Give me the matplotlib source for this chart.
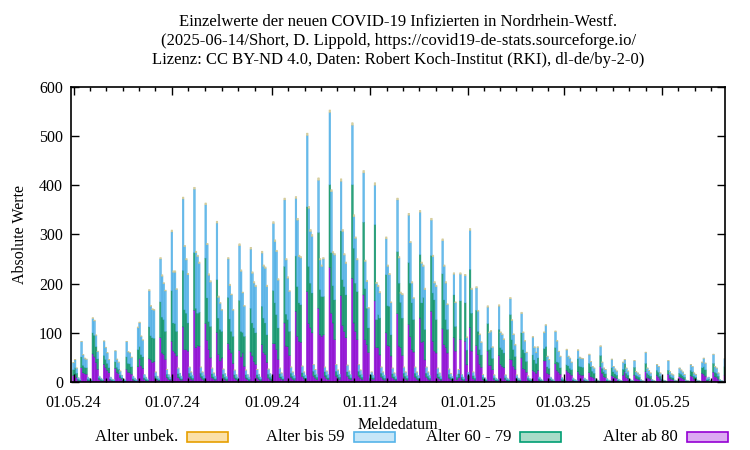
import datetime as dt
import numpy as np
import matplotlib
matplotlib.use("Agg")
import matplotlib.pyplot as plt
import matplotlib.dates as mdates
from matplotlib.patches import Rectangle

#%% Daten (Wochenzeilen Mo..So, ab Mo 29.04.2024; 29./30.04. ohne Werte)
# Oberkanten der gestapelten Balken
top59 = [  # Oberkante "Alter bis 59" (= alle mit bekanntem Alter)
    [0, 0, 39, 45, 28, 9, 6],
    [82, 55, 48, 46, 10, 7, 5],
    [129, 124, 95, 62, 12, 8, 6],
    [83, 70, 59, 45, 10, 6, 5],
    [63, 46, 40, 22, 14, 6, 5],
    [82, 61, 59, 50, 12, 8, 5],
    [110, 120, 93, 85, 15, 10, 6],
    [185, 154, 147, 146, 20, 12, 8],
    [250, 215, 200, 185, 25, 15, 10],
    [305, 223, 223, 188, 28, 18, 12],
    [372, 275, 248, 218, 30, 20, 14],
    [392, 263, 255, 241, 30, 20, 14],
    [360, 279, 217, 203, 28, 18, 12],
    [323, 172, 160, 146, 26, 17, 11],
    [250, 196, 177, 146, 24, 15, 10],
    [277, 225, 181, 154, 24, 15, 10],
    [270, 221, 201, 194, 25, 16, 10],
    [262, 235, 231, 194, 26, 17, 11],
    [322, 285, 265, 207, 28, 18, 12],
    [370, 248, 211, 184, 30, 20, 13],
    [373, 329, 255, 252, 32, 20, 14],
    [501, 353, 306, 296, 35, 25, 16],
    [410, 248, 235, 250, 30, 22, 15],
    [548, 387, 262, 258, 35, 24, 16],
    [408, 306, 258, 241, 34, 22, 15],
    [522, 336, 292, 248, 35, 24, 16],
    [425, 245, 204, 150, 12, 20, 14],
    [400, 200, 194, 181, 30, 20, 14],
    [291, 235, 218, 161, 28, 18, 12],
    [370, 252, 180, 177, 30, 20, 13],
    [339, 283, 201, 170, 30, 20, 13],
    [345, 241, 235, 188, 30, 20, 13],
    [329, 255, 201, 194, 28, 18, 12],
    [287, 235, 201, 157, 26, 17, 11],
    [219, 161, 15, 25, 219, 15, 10],
    [216, 90, 20, 308, 188, 20, 12],
    [191, 144, 96, 80, 15, 9, 6],
    [152, 100, 103, 70, 14, 8, 6],
    [154, 100, 96, 86, 14, 8, 6],
    [169, 125, 96, 75, 14, 8, 6],
    [139, 100, 83, 60, 12, 7, 5],
    [91, 70, 60, 70, 10, 6, 4],
    [100, 115, 52, 45, 10, 6, 4],
    [102, 83, 62, 52, 9, 6, 4],
    [65, 52, 48, 40, 8, 5, 4],
    [64, 50, 48, 47, 8, 5, 4],
    [55, 41, 31, 28, 7, 4, 3],
    [72, 40, 28, 25, 7, 4, 3],
    [46, 31, 26, 22, 6, 4, 3],
    [40, 45, 28, 22, 6, 4, 3],
    [43, 21, 18, 15, 5, 3, 2],
    [60, 28, 23, 18, 5, 3, 2],
    [35, 31, 18, 10, 4, 3, 2],
    [43, 21, 16, 14, 4, 3, 2],
    [28, 24, 20, 15, 4, 3, 2],
    [35, 31, 18, 15, 4, 3, 2],
    [40, 48, 38, 8, 10, 3, 2],
    [56, 31, 28, 18, 5, 3, 2],
    [47],
]
top79 = [  # Oberkante "Alter 60 - 79"
    [0, 0, 25, 29, 18, 6, 4],
    [51, 34, 30, 29, 6, 4, 3],
    [100, 95, 72, 47, 9, 6, 4],
    [54, 46, 38, 29, 6, 4, 3],
    [41, 30, 26, 14, 9, 4, 3],
    [51, 38, 37, 31, 7, 5, 3],
    [66, 72, 56, 51, 9, 6, 4],
    [112, 94, 90, 89, 12, 7, 5],
    [163, 132, 127, 103, 16, 10, 6],
    [186, 120, 119, 103, 17, 11, 7],
    [227, 147, 140, 120, 18, 12, 8],
    [263, 150, 140, 142, 18, 12, 8],
    [252, 171, 123, 113, 17, 11, 7],
    [208, 130, 107, 103, 16, 10, 7],
    [172, 128, 103, 93, 15, 9, 6],
    [166, 103, 101, 93, 15, 9, 6],
    [150, 120, 110, 100, 15, 10, 6],
    [154, 130, 120, 96, 16, 10, 7],
    [186, 161, 137, 110, 17, 11, 7],
    [235, 138, 127, 103, 18, 12, 8],
    [256, 194, 161, 157, 19, 12, 8],
    [356, 235, 201, 181, 22, 15, 10],
    [304, 188, 174, 174, 21, 14, 9],
    [401, 263, 196, 167, 22, 15, 10],
    [307, 208, 194, 177, 21, 14, 9],
    [401, 272, 201, 184, 22, 15, 10],
    [325, 190, 150, 110, 8, 14, 9],
    [320, 127, 137, 130, 18, 12, 8],
    [218, 155, 154, 96, 17, 11, 7],
    [265, 201, 162, 130, 18, 12, 8],
    [243, 201, 161, 127, 18, 12, 8],
    [259, 161, 172, 107, 18, 12, 8],
    [257, 181, 167, 127, 17, 11, 7],
    [220, 167, 127, 107, 16, 10, 7],
    [177, 113, 10, 17, 165, 10, 6],
    [161, 65, 13, 229, 140, 13, 8],
    [146, 103, 66, 55, 10, 6, 4],
    [119, 66, 70, 48, 9, 5, 4],
    [107, 70, 66, 59, 9, 5, 4],
    [137, 86, 66, 52, 9, 5, 4],
    [100, 66, 59, 42, 8, 5, 3],
    [55, 45, 38, 49, 7, 4, 3],
    [68, 72, 31, 28, 7, 4, 3],
    [70, 41, 40, 29, 6, 4, 3],
    [35, 33, 28, 25, 5, 3, 2],
    [47, 32, 31, 30, 5, 3, 2],
    [38, 31, 22, 18, 4, 3, 2],
    [54, 28, 21, 17, 4, 3, 2],
    [29, 21, 17, 14, 4, 2, 2],
    [26, 37, 18, 14, 4, 2, 2],
    [30, 14, 12, 10, 3, 2, 1],
    [38, 18, 15, 12, 3, 2, 1],
    [24, 20, 12, 6, 3, 2, 1],
    [24, 14, 10, 9, 3, 2, 1],
    [18, 16, 13, 10, 3, 2, 1],
    [24, 21, 12, 10, 3, 2, 1],
    [29, 31, 25, 5, 6, 2, 1],
    [38, 20, 18, 12, 3, 2, 1],
    [31],
]
ab80 = [
    [0, 0, 13, 15, 9, 3, 2],
    [29, 19, 17, 16, 3, 2, 2],
    [57, 51, 40, 26, 5, 3, 2],
    [36, 29, 24, 19, 4, 2, 2],
    [28, 20, 17, 9, 6, 2, 2],
    [26, 20, 19, 16, 4, 3, 2],
    [31, 47, 33, 28, 5, 3, 2],
    [47, 45, 40, 42, 6, 4, 3],
    [90, 59, 56, 46, 9, 5, 4],
    [83, 63, 59, 53, 9, 6, 4],
    [112, 66, 66, 63, 10, 6, 4],
    [146, 70, 74, 73, 10, 6, 4],
    [119, 85, 66, 49, 9, 6, 4],
    [101, 56, 43, 49, 8, 5, 3],
    [78, 66, 59, 38, 8, 5, 3],
    [64, 51, 59, 32, 8, 5, 3],
    [61, 53, 42, 36, 8, 5, 3],
    [76, 60, 56, 40, 8, 5, 3],
    [78, 78, 66, 46, 9, 6, 4],
    [120, 73, 72, 54, 10, 6, 4],
    [144, 93, 83, 81, 11, 7, 4],
    [184, 119, 110, 100, 12, 8, 5],
    [150, 96, 93, 96, 12, 7, 5],
    [233, 140, 120, 86, 12, 8, 5],
    [176, 115, 103, 90, 12, 7, 5],
    [211, 120, 103, 86, 12, 8, 5],
    [177, 86, 76, 60, 4, 7, 5],
    [165, 70, 70, 55, 10, 6, 4],
    [100, 74, 73, 53, 9, 6, 4],
    [139, 73, 70, 54, 10, 6, 4],
    [117, 92, 66, 61, 10, 6, 4],
    [130, 81, 83, 45, 10, 6, 4],
    [144, 83, 63, 59, 9, 6, 4],
    [108, 76, 70, 59, 8, 5, 4],
    [90, 63, 5, 9, 86, 5, 3],
    [83, 35, 7, 111, 63, 7, 4],
    [74, 56, 36, 30, 5, 3, 2],
    [63, 34, 34, 25, 5, 3, 2],
    [54, 36, 32, 29, 5, 3, 2],
    [46, 45, 32, 26, 5, 3, 2],
    [49, 27, 26, 20, 4, 2, 2],
    [24, 21, 18, 24, 3, 2, 1],
    [43, 43, 18, 16, 4, 2, 1],
    [37, 24, 20, 16, 3, 2, 1],
    [24, 20, 18, 14, 3, 2, 1],
    [21, 16, 14, 14, 3, 2, 1],
    [19, 11, 10, 8, 2, 1, 1],
    [31, 18, 11, 9, 2, 1, 1],
    [13, 11, 9, 7, 2, 1, 1],
    [14, 21, 9, 7, 2, 1, 1],
    [14, 8, 6, 5, 2, 1, 1],
    [21, 9, 8, 6, 2, 1, 1],
    [14, 10, 6, 3, 1, 1, 1],
    [16, 8, 6, 5, 1, 1, 1],
    [11, 9, 7, 5, 1, 1, 1],
    [13, 11, 6, 5, 1, 1, 1],
    [18, 16, 12, 3, 3, 1, 1],
    [20, 11, 10, 6, 2, 1, 1],
    [14],
]
unbek = [  # Alter unbekannt (schmale Kappe oben)
    [0, 0, 1, 1, 1, 0, 0],
    [1, 1, 1, 1, 0, 0, 0],
    [2, 2, 1, 1, 0, 0, 0],
    [1, 1, 1, 1, 0, 0, 0],
    [1, 1, 1, 1, 0, 0, 0],
    [1, 1, 1, 1, 0, 0, 0],
    [2, 2, 1, 1, 0, 0, 0],
    [3, 2, 2, 2, 1, 0, 0],
    [3, 3, 2, 2, 1, 0, 0],
    [4, 3, 3, 2, 1, 0, 0],
    [4, 3, 3, 3, 1, 1, 0],
    [4, 3, 3, 3, 1, 1, 0],
    [4, 3, 3, 3, 1, 1, 0],
    [4, 3, 2, 2, 1, 0, 0],
    [3, 3, 2, 2, 1, 0, 0],
    [4, 3, 2, 2, 1, 0, 0],
    [4, 3, 3, 3, 1, 0, 0],
    [4, 3, 3, 3, 1, 0, 0],
    [4, 4, 3, 3, 1, 1, 0],
    [4, 3, 3, 2, 1, 1, 0],
    [4, 4, 3, 3, 1, 1, 0],
    [5, 4, 4, 4, 1, 1, 0],
    [5, 3, 3, 3, 1, 1, 0],
    [5, 4, 3, 3, 1, 1, 0],
    [5, 4, 3, 3, 1, 1, 0],
    [5, 4, 3, 3, 1, 1, 0],
    [5, 3, 3, 2, 0, 1, 0],
    [5, 3, 3, 3, 1, 1, 0],
    [4, 3, 3, 2, 1, 1, 0],
    [4, 3, 3, 3, 1, 1, 0],
    [4, 3, 3, 2, 1, 1, 0],
    [4, 3, 3, 3, 1, 1, 0],
    [4, 3, 3, 3, 1, 1, 0],
    [4, 3, 3, 2, 1, 1, 0],
    [3, 2, 0, 1, 3, 0, 0],
    [3, 2, 0, 4, 3, 1, 0],
    [3, 2, 2, 2, 1, 0, 0],
    [3, 2, 2, 2, 1, 0, 0],
    [3, 2, 2, 2, 1, 0, 0],
    [3, 2, 2, 2, 1, 0, 0],
    [3, 2, 2, 1, 1, 0, 0],
    [2, 2, 1, 2, 0, 0, 0],
    [2, 2, 1, 1, 0, 0, 0],
    [2, 2, 1, 1, 0, 0, 0],
    [2, 1, 1, 1, 0, 0, 0],
    [2, 1, 1, 1, 0, 0, 0],
    [2, 1, 1, 1, 0, 0, 0],
    [2, 1, 1, 1, 0, 0, 0],
    [1, 1, 1, 1, 0, 0, 0],
    [1, 1, 1, 1, 0, 0, 0],
    [1, 1, 1, 1, 0, 0, 0],
    [1, 1, 1, 1, 0, 0, 0],
    [1, 1, 1, 0, 0, 0, 0],
    [1, 1, 1, 1, 0, 0, 0],
    [1, 1, 1, 1, 0, 0, 0],
    [1, 1, 1, 1, 0, 0, 0],
    [1, 1, 1, 0, 0, 0, 0],
    [1, 1, 1, 1, 0, 0, 0],
    [1],
]

x_ticklabels = ["01.05.24", "01.07.24", "01.09.24", "01.11.24",
                "01.01.25", "01.03.25", "01.05.25"]
labels = ["Alter unbek.", "Alter bis 59", "Alter 60 - 79", "Alter ab 80"]

#%% aufbereiten
def flach(rows):
    return np.array([v for r in rows for v in r], dtype=float)[2:]

v80 = flach(ab80)
v79 = flach(top79) - v80
v59 = flach(top59) - flach(top79)
vun = flach(unbek)

start = dt.datetime(2024, 5, 1)
tage = np.array([start + dt.timedelta(days=i) for i in range(len(v80))])
x = mdates.date2num(tage)

#%% Zeichnen
plt.rcParams["font.family"] = ["Liberation Serif", "DejaVu Serif"]
plt.rcParams["font.size"] = 11.5

fig = plt.figure(figsize=(7.5, 4.5), dpi=100)
ax = fig.add_axes([0.095, 0.151, 0.872, 0.656])

farben = [  # (fuellung, rand) im Diagramm
    ("#d9d2a2", "#cbc28a"),
    ("#6cbdec", "#45a9e2"),
    ("#2fa47d", "#008a62"),
    ("#9d25e0", "#8600c6"),
]
bw = 1.0
lw = 0.35
unten = np.zeros_like(v80)
for werte, (f, e) in zip([v80, v79, v59, vun], farben[::-1]):
    bars = ax.bar(x, werte, width=bw, bottom=unten, color=f, edgecolor=e, linewidth=lw)
    for b in bars:
        b.set_snap(False)
    unten = unten + werte

# Achsen
ax.set_ylim(0, 600)
ax.set_yticks(range(0, 601, 100))
ax.set_xlim(mdates.date2num(start) - 1.4, mdates.date2num(dt.datetime(2025, 6, 9)) + 0.3)

major = [dt.datetime(2024, 5, 1), dt.datetime(2024, 7, 1), dt.datetime(2024, 9, 1),
         dt.datetime(2024, 11, 1), dt.datetime(2025, 1, 1), dt.datetime(2025, 3, 1),
         dt.datetime(2025, 5, 1)]
mnum = mdates.date2num(major)
ax.set_xticks(mnum)
ax.set_xticklabels(x_ticklabels)
minor = []
for a, b in zip(mnum[:-1], mnum[1:]):
    minor += list(np.linspace(a, b, 7)[1:-1])
schritt = (mnum[-1] - mnum[-2]) / 6
minor += [mnum[-1] + schritt * i for i in range(1, 4)]
ax.set_xticks(minor, minor=True)

ax.tick_params(axis="both", which="major", direction="in", length=6, width=1,
               top=True, right=True)
ax.tick_params(axis="x", which="major", pad=9)
ax.tick_params(axis="y", which="major", pad=6)
ax.tick_params(axis="x", which="minor", direction="in", length=3, width=1, top=True)
for s in ax.spines.values():
    s.set_linewidth(1.2)

ax.set_xlabel("Meldedatum", labelpad=5)
ax.set_ylabel("Absolute Werte", labelpad=8)

fig.text(0.531, 0.968,
         "Einzelwerte der neuen COVID-19 Infizierten in Nordrhein-Westf.\n"
         "(2025-06-14/Short, D. Lippold, https://covid19-de-stats.sourceforge.io/\n"
         "Lizenz: CC BY-ND 4.0, Daten: Robert Koch-Institut (RKI), dl-de/by-2-0)",
         ha="center", va="top", linespacing=1.22, fontsize=12)

# Legende unten, gnuplot-Stil: Text links, Kaestchen rechts
leg_farben = [("#fbe0a8", "#e69f00"), ("#c6e6f8", "#56b4e9"),
              ("#a8dcc8", "#009e73"), ("#dcaaf2", "#9400d3")]
for i, (lab, (f, e)) in enumerate(zip(labels, leg_farben)):
    x0 = 187 + 166.7 * i
    fig.patches.append(Rectangle((x0 / 750, 1 - 442 / 450), 41 / 750, 10 / 450,
                                 transform=fig.transFigure, facecolor=f,
                                 edgecolor=e, linewidth=1.2))
    fig.text((x0 - 9) / 750, 1 - 437 / 450, lab, ha="right", va="center", fontsize=12)

plt.savefig("out.png", dpi=100)
